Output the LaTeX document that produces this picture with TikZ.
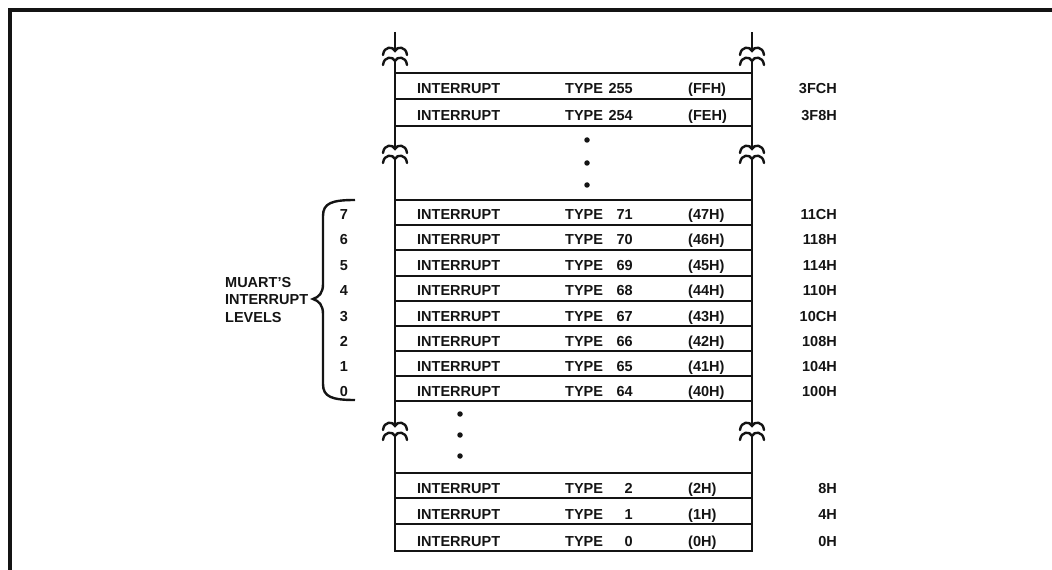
\documentclass[tikz,border=0pt]{standalone}
\usepackage{fontspec}
\setmainfont{Liberation Sans}
\usetikzlibrary{positioning}
\definecolor{ink}{HTML}{141414}
\tikzset{
  every node/.style={font=\bfseries\fontsize{14.5bp}{17.5bp}\selectfont,text=ink,inner sep=0},
  rule/.style={draw=ink,line width=2.6bp},
  frame/.style={draw=ink,line width=4bp},
  wave/.style={draw=ink,line width=2.4bp,line cap=round},
  brace/.style={draw=ink,line width=2.4bp},
  dot/.style={circle,fill=ink,minimum size=5.5bp,inner sep=0},
  entry/.style={anchor=base west}
}
% break in a vertical line of the memory column
\newcommand{\memgap}[2]{%
  \fill[white] (#1-5,#2+1) rectangle (#1+5,#2+11);
  \draw[wave] (#1-12,#2+5) .. controls (#1-11,#2-4) and (#1-2,#2-4) .. (#1,#2+1) .. controls (#1+2,#2-4) and (#1+11,#2-4) .. (#1+12,#2+5);
  \draw[wave] (#1-12,#2+15) .. controls (#1-11,#2+6) and (#1-2,#2+6) .. (#1,#2+11) .. controls (#1+2,#2+6) and (#1+11,#2+6) .. (#1+12,#2+15);
}

\begin{document}
\begin{tikzpicture}[x=1bp,y=-1bp]
  \path[use as bounding box] (0,0) rectangle (1052,570);
  \draw[frame] (10,570) -- (10,10) -- (1052,10);

  % memory column
  \draw[rule] (395,32) -- (395,551) -- (752,551) -- (752,32);
  \foreach \y in {73,99,126,200,225,250,276,301,326,351,376,401,473,498,524}
    \draw[rule] (395,\y) -- (752,\y);
  \foreach \x in {395,752} {\memgap{\x}{50}\memgap{\x}{148}\memgap{\x}{425}}

  % entries: bottom line / type / vector / address
  \foreach \b/\t/\h/\a in {99/255/FF/3FC,126/254/FE/3F8,
      225/71/47/11C,250/70/46/118,276/69/45/114,301/68/44/110,
      326/67/43/10C,351/66/42/108,376/65/41/104,401/64/40/100,
      498/2/2/8,524/1/1/4,551/0/0/0} {
    \node[entry] (int\t) at (417,\b-5) {INTERRUPT};
    \node[entry] (typ\t) at (565,\b-5) {TYPE};
    \node[anchor=base east] (num\t) at (633,\b-5) {\t};
    \node[entry] (vec\t) at (688,\b-5) {(\h H)};
    \node[anchor=base east] (adr\t) at (837,\b-5) {\a H};
  }

  % dots
  \foreach \y [count=\i] in {140,163,185} \node[dot] (up\i) at (587,\y) {};
  \foreach \y [count=\i] in {414,435,456} \node[dot] (lo\i) at (460,\y) {};

  % interrupt levels
  \foreach \l/\b in {7/225,6/250,5/276,4/301,3/326,2/351,1/376,0/401}
    \node[anchor=base] (lvl\l) at (344,\b-5) {\l};
  \draw[brace] (355,200) .. controls (332,200) and (323,203) .. (323,216) -- (323,284)
    .. controls (323,293) and (319,297) .. (313,299) .. controls (319,301) and (323,305) .. (323,314)
    -- (323,384) .. controls (323,397) and (332,400) .. (355,400);
  \node[anchor=west,align=left] (muart) at (225,300) {MUART'S\\INTERRUPT\\LEVELS};
\end{tikzpicture}
\end{document}
